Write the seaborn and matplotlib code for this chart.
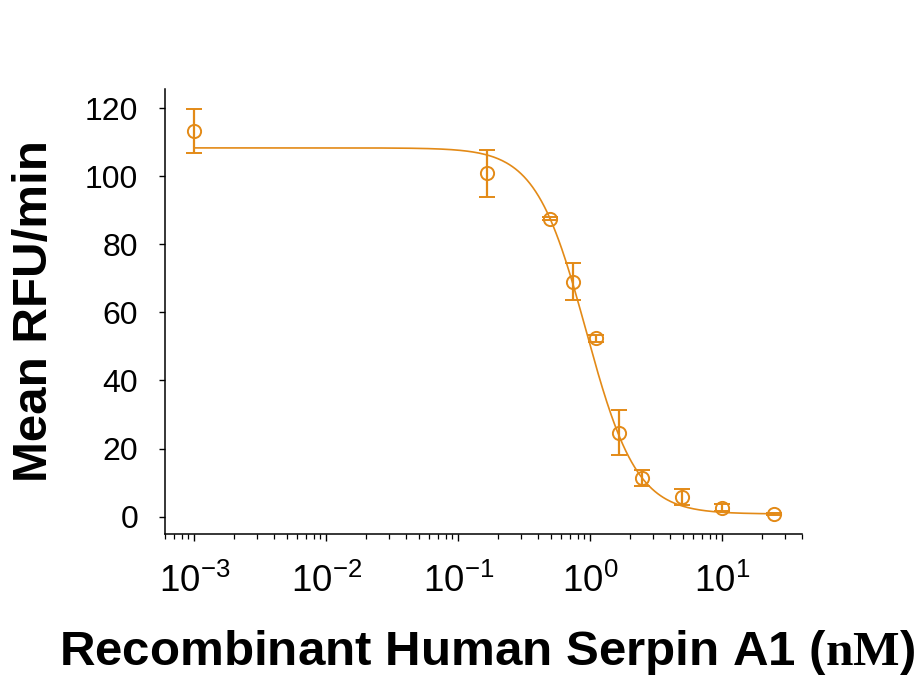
import numpy as np
import pandas as pd
import matplotlib
matplotlib.use('Agg')
import matplotlib.pyplot as plt
import seaborn as sns

# measured points (nM, mean RFU/min, error)
conc = [0.001, 0.166, 0.495, 0.736, 1.10, 1.65, 2.48, 4.95, 9.9, 24.6]
rfu = [113.2, 100.8, 87.5, 69.0, 52.4, 24.7, 11.3, 5.8, 2.7, 0.9]
err = [6.5, 7.0, 0.5, 5.5, 1.0, 6.5, 2.3, 2.3, 1.0, 0.3]

# 4-parameter logistic fit
fit_top = 108.3
fit_bottom = 0.8
fit_ic50 = 0.93
fit_hill = 2.27

yticks = [0, 20, 40, 60, 80, 100, 120]
color = '#E38A17'

sns.set_theme(style='ticks')
plt.rcParams['font.family'] = ['Liberation Sans', 'DejaVu Sans']
plt.rcParams['mathtext.fontset'] = 'custom'
plt.rcParams['mathtext.rm'] = 'Liberation Sans'
plt.rcParams['mathtext.it'] = 'Liberation Sans:italic'
plt.rcParams['mathtext.bf'] = 'Liberation Serif:bold'
for k in ['text.color', 'axes.labelcolor', 'xtick.color', 'ytick.color']:
    plt.rcParams[k] = 'black'

fig = plt.figure(figsize=(9.22, 6.84), dpi=100)
ax = fig.add_axes([0.179, 0.2197, 0.6906, 0.6502])

xs = np.logspace(-3, np.log10(conc[-1]), 400)
curve = pd.DataFrame({'x': xs,
                      'y': fit_bottom + (fit_top - fit_bottom) / (1 + (xs / fit_ic50) ** fit_hill)})
sns.lineplot(data=curve, x='x', y='y', ax=ax, color=color, linewidth=1.2)

ax.errorbar(conc, rfu, yerr=err, fmt='o', color=color, mfc='none', mec=color,
            ms=9.5, mew=1.4, elinewidth=1.6, capsize=5.8, capthick=1.6)

ax.set_xscale('log')
ax.set_xlim(6e-4, 40)
ax.set_ylim(-5, 125.6)
ax.set_yticks(yticks)

for s in ['top', 'right']:
    ax.spines[s].set_visible(False)
for s in ['left', 'bottom']:
    ax.spines[s].set_color('black')
    ax.spines[s].set_linewidth(1.1)

ax.tick_params(axis='x', which='major', length=5, width=1, pad=17, labelsize=26.5)
ax.tick_params(axis='x', which='minor', length=3.4, width=0.9)
ax.tick_params(axis='y', which='major', length=4.3, width=1, pad=15, labelsize=23)

ax.set_xlabel(r'Recombinant Human Serpin A1 ($\mathbf{nM}$)', fontsize=35.5, fontweight='bold')
ax.set_ylabel('Mean RFU/min', fontsize=35.5, fontweight='bold')
ax.xaxis.set_label_coords(0.506, -0.213)
ax.yaxis.set_label_coords(-0.17, 0.5)

fig.savefig('out.png', dpi=100)
